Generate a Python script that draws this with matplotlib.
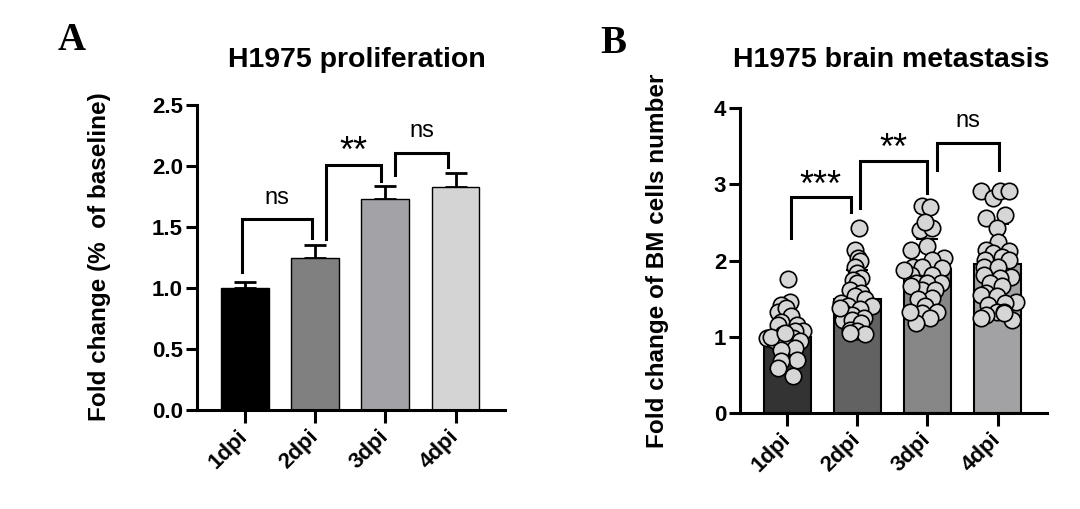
import matplotlib
matplotlib.use("Agg")
import matplotlib.pyplot as plt
import numpy as np

plt.rcParams['font.family'] = ['Liberation Sans', 'DejaVu Sans']

# ---- data ----
groups = ['1dpi', '2dpi', '3dpi', '4dpi']

# panel A : proliferation, mean + upper SD
prolif_mean = [1.00, 1.25, 1.73, 1.83]
prolif_err = [0.05, 0.10, 0.11, 0.11]
prolif_colors = ['#000000', '#808080', '#a3a3a7', '#d4d4d4']

# panel B : brain metastasis, individual points (value, horizontal offset)
bm_1dpi = [1.76, 1.46, 1.42, 1.33, 1.38, 1.27, 1.20, 1.16, 1.16, 1.07, 1.07, 1.03, 0.98,
           0.96, 0.98, 0.94, 0.87, 0.85, 0.83, 0.70, 0.68, 0.59, 0.48, 1.00, 1.05]
bm_1dpi_dx = [0.01, 0.04, -0.08, -0.13, -0.01, 0.06, -0.08, -0.13, 0.14, 0.23, 0.11, -0.06, -0.28,
              -0.18, 0.09, 0.19, 0.01, 0.11, -0.08, 0.14, -0.08, -0.13, 0.09, -0.23, -0.03]
bm_2dpi = [2.43, 2.14, 2.03, 1.99, 1.92, 1.84, 1.77, 1.75, 1.70, 1.62, 1.57, 1.53, 1.44, 1.49,
           1.40, 1.40, 1.36, 1.33, 1.29, 1.25, 1.22, 1.22, 1.18, 1.09, 1.07, 1.03, 1.05, 1.38]
bm_2dpi_dx = [0.02, -0.03, 0.01, 0.04, -0.03, -0.01, 0.06, -0.06, -0.01, -0.11, 0.06, -0.03, -0.23, 0.11,
              -0.13, 0.21, 0.04, -0.20, -0.08, 0.09, -0.20, -0.08, 0.06, -0.11, -0.01, 0.11, -0.11, -0.25]
bm_3dpi = [2.71, 2.70, 2.40, 2.43, 2.51, 2.14, 2.19, 2.03, 2.01, 1.92, 1.90, 1.92, 1.81, 1.81, 1.70,
           1.70, 1.70, 1.62, 1.66, 1.62, 1.51, 1.49, 1.40, 1.33, 1.31, 1.25, 1.18, 1.33, 1.88]
bm_3dpi_dx = [-0.08, 0.04, -0.11, 0.06, -0.03, -0.23, -0.01, 0.23, 0.06, -0.20, 0.21, -0.08, -0.23, 0.06, 0.19,
              -0.16, -0.01, -0.08, -0.23, 0.11, 0.06, -0.13, -0.03, 0.14, -0.08, 0.04, -0.16, -0.25, -0.33]
bm_4dpi = [2.91, 2.82, 2.91, 2.91, 2.56, 2.60, 2.43, 2.25, 2.14, 2.12, 2.10, 2.05, 2.01, 2.01, 1.92, 1.92, 1.81,
           1.79, 1.77, 1.70, 1.66, 1.57, 1.55, 1.53, 1.46, 1.44, 1.42, 1.33, 1.33, 1.29, 1.25, 1.22, 1.31]
bm_4dpi_dx = [-0.23, -0.06, 0.04, 0.16, -0.16, 0.11, -0.01, 0.01, -0.16, 0.16, -0.06, 0.06, -0.18, 0.16, -0.20, 0.01, -0.20,
              0.19, 0.04, -0.11, 0.06, -0.16, -0.23, -0.01, 0.26, 0.11, -0.13, -0.01, 0.09, -0.16, -0.23, 0.21, 0.09]
bm_points = [bm_1dpi, bm_2dpi, bm_3dpi, bm_4dpi]
bm_dx = [bm_1dpi_dx, bm_2dpi_dx, bm_3dpi_dx, bm_4dpi_dx]
bm_mean = [1.00, 1.50, 1.89, 1.95]
bm_err = [0.28, 0.37, 0.39, 0.53]
bm_colors = ['#333333', '#626262', '#878787', '#a2a2a4']

# brackets: x left, x right, y left foot, y right foot, y top, label, label y
prolif_sig = [(-0.04, 0.96, 1.13, 1.41, 1.57, 'ns', 1.74),
              (1.16, 1.94, 1.40, 1.88, 2.01, '**', 2.03),
              (2.14, 2.89, 1.93, 1.99, 2.11, 'ns', 2.29)]
bm_sig = [(0.05, 0.91, 2.30, 2.64, 2.83, '***', 2.85),
          (1.04, 2.00, 2.69, 2.89, 3.31, '**', 3.33),
          (2.13, 3.02, 3.19, 3.19, 3.54, 'ns', 3.83)]

LW = 2.2
fig = plt.figure(figsize=(10.8, 5.09), dpi=100)
axA = fig.add_axes([0.1824, 0.1945, 0.285, 0.599])
axB = fig.add_axes([0.6852, 0.1886, 0.284, 0.599])


def style_axes(ax):
    for s in ['top', 'right']:
        ax.spines[s].set_visible(False)
    for s in ['left', 'bottom']:
        ax.spines[s].set_linewidth(LW)
    ax.tick_params(axis='y', width=LW, length=8, labelsize=16, pad=2)
    ax.tick_params(axis='x', width=LW, length=9, labelsize=16, pad=8)
    for lab in ax.get_yticklabels():
        lab.set_fontweight('bold')
    ax.set_xticks(range(len(groups)))
    ax.set_xticklabels(groups, rotation=45, ha='right', va='center',
                       rotation_mode='anchor', fontweight='bold')


def draw_sig(ax, sig):
    for xl, xr, yl, yr, yt, lab, ly in sig:
        ax.plot([xl, xl, xr, xr], [yl, yt, yt, yr], color='black', lw=LW,
                solid_joinstyle='miter', clip_on=False)
        if '*' in lab:
            ax.text((xl + xr) / 2, ly, lab, ha='center', va='baseline', fontsize=26)
        else:
            ax.text((xl + xr) / 2, ly, lab, ha='center', va='center', fontsize=17)


x = np.arange(len(groups))

# ---- panel A ----
axA.bar(x, prolif_mean, width=0.68, color=prolif_colors, edgecolor='black', linewidth=1.0, zorder=2)
axA.errorbar(x, prolif_mean, yerr=[np.zeros(4), prolif_err], fmt='none', ecolor='black',
             elinewidth=2, capsize=8, capthick=2, zorder=1)
axA.set_ylim(0, 2.5)
axA.set_yticks([0.0, 0.5, 1.0, 1.5, 2.0, 2.5])
axA.set_yticklabels(['0.0', '0.5', '1.0', '1.5', '2.0', '2.5'])
axA.set_xlim(-0.68, 3.70)
style_axes(axA)
draw_sig(axA, prolif_sig)

# ---- panel B ----
axB.bar(x, bm_mean, width=0.67, color=bm_colors, edgecolor='black', linewidth=1.5, zorder=1)
axB.errorbar(x, bm_mean, yerr=[np.zeros(4), bm_err], fmt='none', ecolor='black',
             elinewidth=1.5, capsize=8, capthick=1.5, zorder=2)
for i in range(len(groups)):
    axB.scatter(x[i] + np.array(bm_dx[i]), bm_points[i], s=140, facecolor='#d6d6d6',
                edgecolor='black', linewidth=1.2, zorder=3, clip_on=False)
axB.set_ylim(0, 4)
axB.set_yticks([0, 1, 2, 3, 4])
axB.set_xlim(-0.67, 3.70)
style_axes(axB)
draw_sig(axB, bm_sig)

# ---- titles, labels, panel letters ----
fig.text(0.330, 0.882, 'H1975 proliferation', ha='center', va='center', fontsize=20.5, fontweight='bold')
fig.text(0.825, 0.882, 'H1975 brain metastasis', ha='center', va='center', fontsize=20.5, fontweight='bold')
fig.text(0.092, 0.495, 'Fold change (%  of baseline)', rotation=90, ha='center', va='center',
         fontsize=17.5, fontweight='bold')
fig.text(0.609, 0.487, 'Fold change of BM cells number', rotation=90, ha='center', va='center',
         fontsize=17.5, fontweight='bold')
fig.text(0.0667, 0.921, 'A', ha='center', va='center', fontsize=28, fontweight='bold',
         family=['Liberation Serif', 'DejaVu Serif'])
fig.text(0.568, 0.915, 'B', ha='center', va='center', fontsize=28, fontweight='bold',
         family=['Liberation Serif', 'DejaVu Serif'])

fig.savefig('out.png', dpi=100)
